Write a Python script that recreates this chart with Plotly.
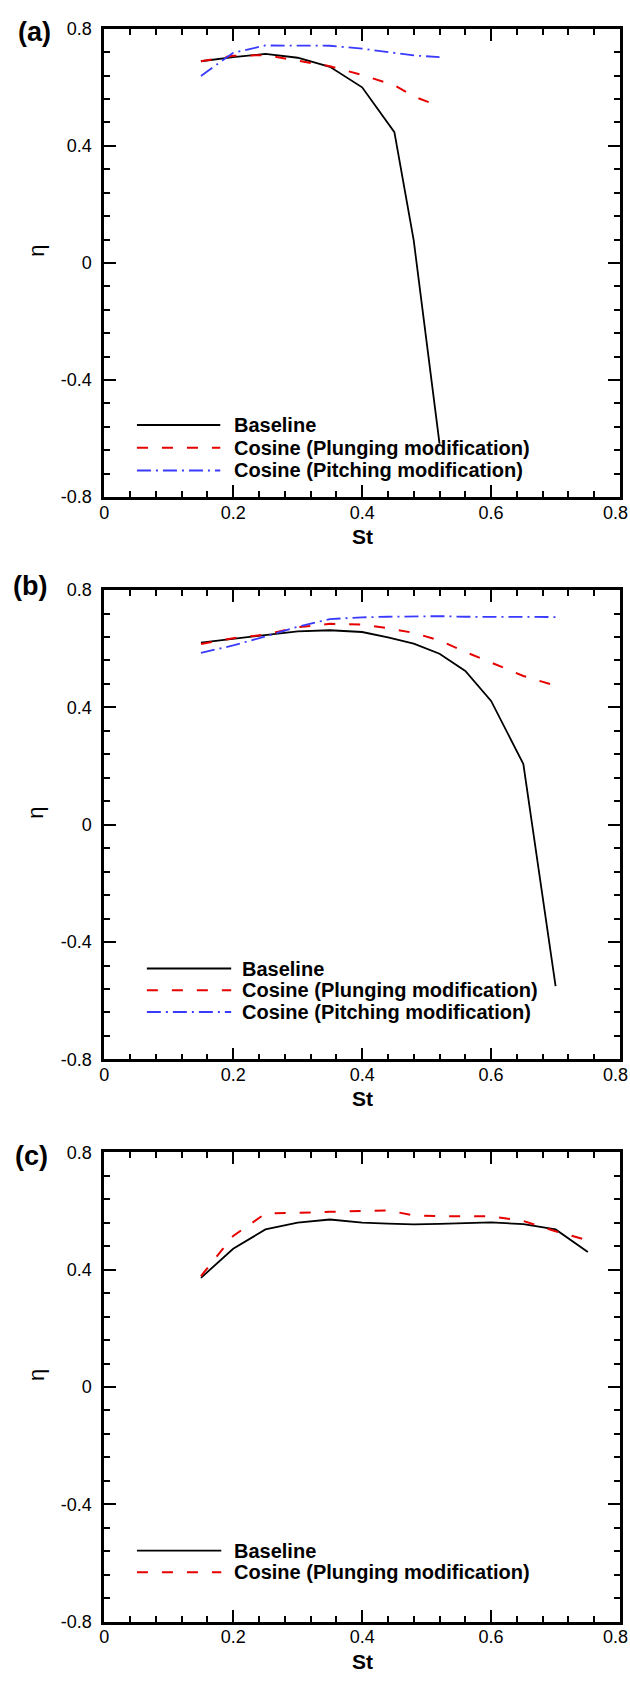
import plotly.graph_objects as go

# ---------------- data ----------------
st_a = [0.15, 0.2, 0.25, 0.3, 0.35, 0.4, 0.45, 0.48, 0.52]
eta_a_baseline = [0.689, 0.703, 0.714, 0.701, 0.670, 0.600, 0.447, 0.077, -0.617]
eta_a_plunging = [0.689, 0.708, 0.710, 0.692, 0.672, 0.642, 0.607, 0.569, 0.535]
eta_a_pitching = [0.639, 0.718, 0.743, 0.743, 0.742, 0.732, 0.718, 0.709, 0.703]

st_b = [0.15, 0.2, 0.25, 0.3, 0.35, 0.4, 0.44, 0.48, 0.52, 0.56, 0.6, 0.65, 0.7]
eta_b_baseline = [0.621, 0.634, 0.645, 0.659, 0.663, 0.657, 0.639, 0.617, 0.583, 0.524, 0.422, 0.207, -0.55]
eta_b_plunging = [0.616, 0.636, 0.648, 0.673, 0.685, 0.682, 0.670, 0.654, 0.628, 0.589, 0.553, 0.507, 0.474]
eta_b_pitching = [0.586, 0.611, 0.642, 0.675, 0.701, 0.707, 0.709, 0.711, 0.711, 0.709, 0.708, 0.708, 0.708]

st_c = [0.15, 0.2, 0.25, 0.3, 0.35, 0.4, 0.44, 0.48, 0.52, 0.56, 0.6, 0.65, 0.7, 0.75]
eta_c_baseline = [0.372, 0.471, 0.537, 0.560, 0.571, 0.560, 0.557, 0.554, 0.556, 0.558, 0.561, 0.555, 0.537, 0.460]
eta_c_plunging = [0.378, 0.515, 0.591, 0.593, 0.597, 0.600, 0.602, 0.585, 0.582, 0.582, 0.582, 0.566, 0.531, 0.500]

x_tick_vals = [0, 0.2, 0.4, 0.6, 0.8]
x_tick_text = ["0", "0.2", "0.4", "0.6", "0.8"]
y_tick_vals = [-0.8, -0.4, 0, 0.4, 0.8]
y_tick_text = ["-0.8", "-0.4", "0", "0.4", "0.8"]

panel_labels = ["(a)", "(b)", "(c)"]
series_names = ["Baseline", "Cosine (Plunging modification)", "Cosine (Pitching modification)"]

# ---------------- layout geometry (pixels) ----------------
W, H = 630, 1688
X0, X1 = 100, 620
panels_px = [(19, 493), (587, 1062), (1156, 1631)]

def px(x):
    return x / W

def py(y):
    return 1 - y / H

FONT = "Liberation Sans, Arial, sans-serif"
RED = "#e60000"
BLUE = "#3a3aff"
styles = [
    dict(color="black", width=1.8, dash="solid"),
    dict(color=RED, width=2.0, dash="11px,14px"),
    dict(color=BLUE, width=1.8, dash="14px,5px,2px,5px"),
]

data_sets = [
    (st_a, [eta_a_baseline, eta_a_plunging, eta_a_pitching]),
    (st_b, [eta_b_baseline, eta_b_plunging, eta_b_pitching]),
    (st_c, [eta_c_baseline, eta_c_plunging]),
]

fig = go.Figure()

for i, (st, series) in enumerate(data_sets):
    sfx = "" if i == 0 else str(i + 1)
    for j, vals in enumerate(series):
        fig.add_trace(go.Scatter(
            x=st, y=vals, mode="lines", name=series_names[j],
            line=styles[j], showlegend=False,
            xaxis="x" + sfx, yaxis="y" + sfx,
        ))

TICK_FONT = dict(family=FONT, size=18, color="black")
axis_common = dict(
    showgrid=False, zeroline=False, showline=True, linecolor="black",
    linewidth=2.5, mirror="allticks", ticks="inside", ticklen=12,
    tickwidth=2, tickcolor="black", tickfont=TICK_FONT,
)

annotations = []
shapes = []

legend_cfg = [
    dict(x0=133, x1=217, tx=229, rows=[420, 443, 466]),
    dict(x0=143, x1=228, tx=237, rows=[970, 992, 1014]),
    dict(x0=133, x1=218, tx=229, rows=[1559, 1581]),
]
label_pos = [(30, 22), (25, 583), (27, 1160)]

layout_axes = {}
for i, (top, bot) in enumerate(panels_px):
    sfx = "" if i == 0 else str(i + 1)
    layout_axes["xaxis" + sfx] = dict(
        axis_common, domain=[px(X0), px(X1)], range=[0, 0.8],
        tickvals=x_tick_vals, ticktext=x_tick_text,
        anchor="y" + sfx, ticklabelstandoff=-3,
        minor=dict(ticks="inside", ticklen=6, tickwidth=1.5, tickcolor="black",
                   dtick=0.04, tick0=0, showgrid=False),
    )
    layout_axes["yaxis" + sfx] = dict(
        axis_common, domain=[py(bot), py(top)], range=[-0.8, 0.8],
        tickvals=y_tick_vals, ticktext=y_tick_text,
        anchor="x" + sfx, ticklabelstandoff=6,
        minor=dict(ticks="inside", ticklen=6, tickwidth=1.5, tickcolor="black",
                   dtick=0.08, tick0=0, showgrid=False),
    )
    # last x tick label sits at the page edge; keep it fully inside the page
    annotations.append(dict(text=x_tick_text[-1], x=1.0, y=py(bot + 16),
                            xref="paper", yref="paper", showarrow=False,
                            xanchor="right", yanchor="middle", font=TICK_FONT))
    # panel label
    lx, ly = label_pos[i]
    annotations.append(dict(text="<b>%s</b>" % panel_labels[i], x=px(lx), y=py(ly),
                            xref="paper", yref="paper", showarrow=False,
                            xanchor="center", yanchor="middle",
                            font=dict(family=FONT, size=27, color="black")))
    # x title
    annotations.append(dict(text="<b>St</b>", x=px((X0 + X1) / 2), y=py(bot + 40),
                            xref="paper", yref="paper", showarrow=False,
                            xanchor="center", yanchor="middle",
                            font=dict(family=FONT, size=21, color="black")))
    # y title
    annotations.append(dict(text="η", x=px(31), y=py((top + bot) / 2 - 12),
                            xref="paper", yref="paper", showarrow=False,
                            xanchor="center", yanchor="middle", textangle=-90,
                            font=dict(family=FONT, size=22, color="black")))
    # legend
    cfg = legend_cfg[i]
    for j, ry in enumerate(cfg["rows"]):
        st_ = styles[j]
        shapes.append(dict(type="line", xref="paper", yref="paper",
                           x0=px(cfg["x0"]), x1=px(cfg["x1"]), y0=py(ry), y1=py(ry),
                           line=dict(color=st_["color"], width=st_["width"], dash=st_["dash"])))
        annotations.append(dict(text="<b>%s</b>" % series_names[j], x=px(cfg["tx"]), y=py(ry),
                                xref="paper", yref="paper", showarrow=False,
                                xanchor="left", yanchor="middle",
                                font=dict(family=FONT, size=20, color="black")))

fig.update_layout(
    width=W, height=H,
    margin=dict(l=0, r=0, t=0, b=0),
    paper_bgcolor="white", plot_bgcolor="white",
    showlegend=False,
    annotations=annotations, shapes=shapes,
    **layout_axes,
)

fig.write_html("out.html")
